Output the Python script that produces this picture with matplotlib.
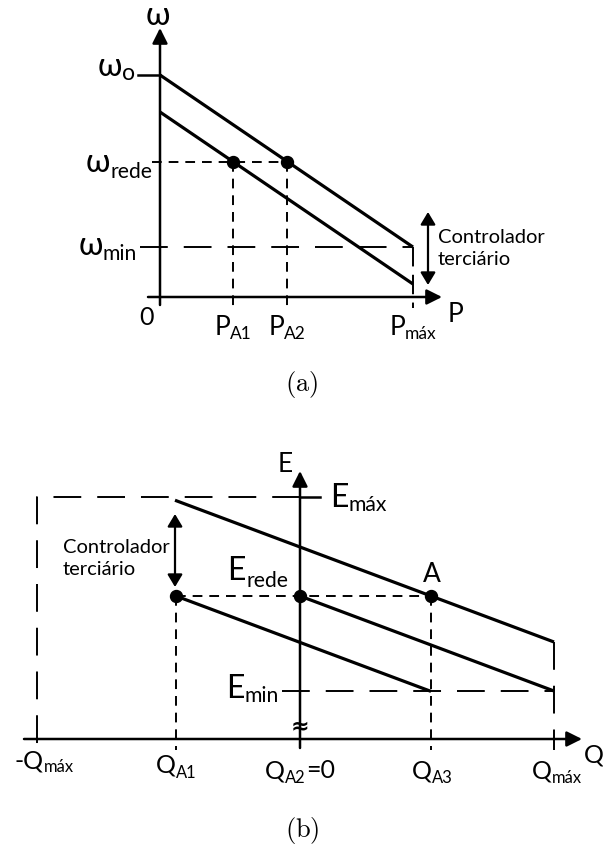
import matplotlib.pyplot as plt
from matplotlib.patches import FancyArrowPatch

plt.rcParams["font.family"] = ["Lato", "Noto Sans", "DejaVu Sans"]
plt.rcParams["mathtext.fontset"] = "cm"
plt.rcParams["lines.scale_dashes"] = False

# (a) frequency droop, omega = omega0 - kp * P
p_ticks = [73, 127, 253]            # P_A1, P_A2, P_max
p_names = ["A1", "A2", "máx"]
omega_starts = [222, 185]           # the two parallel characteristics
kp = 0.68
omega_o = 222
omega_rede = 135
omega_min = 50

# (b) voltage droop, E = E0 - kq * Q
q_ticks = [-263, -124, 0, 131, 254]  # -Q_max, Q_A1, Q_A2, Q_A3, Q_max
e_max, e_rede, e_min = 242, 143, 48
kq = 0.374
e_starts = [192, 143, 96.6]
q_spans = [(-125, 254), (0, 254), (-124, 131)]

W, H = 603, 851
LW = 2.3
AXW = 1.8
DW = 1.4
SHORT = (0, (7, 5))
LONG = (0, (20, 11.5))

fig = plt.figure(figsize=(W / 100, H / 100), dpi=100)
renderer = fig.canvas.get_renderer()


def panel(ox, oy):
    ax = fig.add_axes([0, 0, 1, 1])
    ax.set_xlim(-ox, W - ox)
    ax.set_ylim(oy - H, oy)
    ax.axis("off")
    ax.patch.set_alpha(0)
    return ax


def arrow(ax, a, b, style, scale, lw):
    ax.add_patch(FancyArrowPatch(a, b, arrowstyle=style, mutation_scale=scale,
                                 lw=lw, color="black", shrinkA=0, shrinkB=0,
                                 zorder=3))


def label(ax, x, y, main, sub="", tail="", size=18, ha="center", drop=5,
          sub_scale=0.66):
    texts = []
    for s, fs, dy in [(main, size, 0), (sub, size * sub_scale, -drop),
                      (tail, size, 0)]:
        if s:
            texts.append(ax.text(x, y + dy, s, fontsize=fs, va="baseline",
                                 ha="left", color="black"))
    widths = [t.get_window_extent(renderer).width for t in texts]
    total = sum(widths)
    left = {"center": x - total / 2, "right": x - total, "left": x}[ha]
    for t, w in zip(texts, widths):
        t.set_x(left)
        left += w


# ---------------- (a) ----------------
ax = panel(160, 297)
arrow(ax, (-12, 0), (282, 0), "-|>,head_length=0.4,head_width=0.2", 23, AXW)
arrow(ax, (0, -8), (0, 269), "-|>,head_length=0.4,head_width=0.2", 23, AXW)

p_max = p_ticks[-1]
for w0 in omega_starts:
    ax.plot([0, p_max], [w0, w0 - kp * p_max], color="black", lw=LW,
            solid_capstyle="butt", zorder=2)

ax.plot([-22, 0], [omega_o, omega_o], color="black", lw=AXW)
ax.plot([-8, p_ticks[1]], [omega_rede, omega_rede], color="black", lw=DW,
        linestyle=SHORT)
for p in p_ticks[:2]:
    ax.plot([p, p], [omega_rede, -11], color="black", lw=DW, linestyle=SHORT)
ax.plot([-20, p_max], [omega_min, omega_min], color="black", lw=DW,
        linestyle=LONG)
ax.plot([p_max, p_max], [omega_min, -11], color="black", lw=DW,
        linestyle=(0, (14, 6)))
ax.plot(p_ticks[:2], [omega_rede, omega_rede], "o", color="black", ms=8.6,
        zorder=4)

arrow(ax, (268, 85), (268, 12), "<|-|>,head_length=0.5,head_width=0.3", 15, 1.6)
ax.text(278, 54, "Controlador", fontsize=14.5, va="baseline")
ax.text(278, 32, "terciário", fontsize=14.5, va="baseline")

label(ax, -2, 272, "ω", size=23)
label(ax, -25, 221, "ω", "o", size=23, ha="right", drop=4, sub_scale=0.72)
label(ax, -8, 125, "ω", "rede", size=23, ha="right", drop=6)
label(ax, -23, 42, "ω", "min", size=23, ha="right", drop=5)
label(ax, -14, -28, "0", size=18)
for p, n in zip(p_ticks, p_names):
    label(ax, p, -38, "P", n, size=19, drop=4)
label(ax, 296, -25, "P", size=19)
ax.text(142, -88, r"$\mathrm{(a)}$", fontsize=19, ha="center", va="center")

# ---------------- (b) ----------------
ax = panel(300, 739)
arrow(ax, (-276, 0), (282, 0), "-|>,head_length=0.4,head_width=0.2", 23, AXW)
arrow(ax, (0, -9), (0, 268), "-|>,head_length=0.4,head_width=0.2", 23, AXW)

q_lo, q_a1, q_a2, q_a3, q_hi = q_ticks
for e0, (qa, qb) in zip(e_starts, q_spans):
    ax.plot([qa, qb], [e0 - kq * qa, e0 - kq * qb], color="black", lw=LW,
            solid_capstyle="butt", zorder=2)

ax.plot([0, 20], [e_max, e_max], color="black", lw=AXW)
ax.plot([0, q_lo, q_lo], [e_max, e_max, -11], color="black", lw=DW,
        linestyle=LONG)
ax.plot([-18, q_hi], [e_min, e_min], color="black", lw=DW, linestyle=LONG)
ax.plot([q_hi, q_hi], [e_starts[0] - kq * q_hi, -11], color="black", lw=DW,
        linestyle=LONG)
ax.plot([q_a1, q_a3], [e_rede, e_rede], color="black", lw=DW, linestyle=SHORT)
for q in (q_a1, q_a3):
    ax.plot([q, q], [e_rede, -11], color="black", lw=DW, linestyle=SHORT)
ax.plot([q_a1, q_a2, q_a3], [e_rede] * 3, "o", color="black", ms=8.6,
        zorder=4)

arrow(ax, (-125, 225), (-125, 152), "<|-|>,head_length=0.5,head_width=0.3", 15,
      1.6)
ax.text(-237, 186, "Controlador", fontsize=14.5, va="baseline")
ax.text(-237, 164, "terciário", fontsize=14.5, va="baseline")

ax.text(0, 13, "≈", fontsize=16, ha="center", va="center",
        family="DejaVu Sans", fontweight="bold")

label(ax, -15, 267, "E", size=19)
label(ax, 30, 232, "E", "máx", size=23, ha="left", drop=4)
label(ax, -12, 159, "E", "rede", size=23, ha="right", drop=7)
label(ax, -21, 41, "E", "min", size=23, ha="right", drop=4)
label(ax, 132, 157, "A", size=19)
label(ax, q_lo + 7, -29, "-Q", "máx", size=18, drop=4)
label(ax, q_a1, -34, "Q", "A1", size=18, drop=5)
label(ax, q_a2, -39, "Q", "A2", "=0", size=18, drop=5)
label(ax, q_a3 + 1, -39, "Q", "A3", size=18, drop=5)
label(ax, q_hi + 3, -39, "Q", "máx", size=18, drop=5)
label(ax, 294, -23, "Q", size=18)
ax.text(2, -91, r"$\mathrm{(b)}$", fontsize=19, ha="center", va="center")

fig.savefig("out.png", dpi=100)
